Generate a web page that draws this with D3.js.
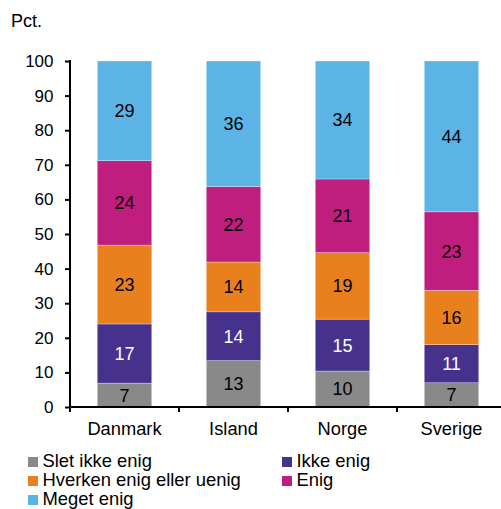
<!DOCTYPE html>
<html><head><meta charset="utf-8">
<script src="https://cdn.jsdelivr.net/npm/d3@7"></script>
<style>body{margin:0;background:#fff}svg{font-family:"Liberation Sans",Arial,sans-serif}</style>
</head><body>
<script>
const categories = ["Danmark", "Island", "Norge", "Sverige"];
const seriesNames = ["Slet ikke enig", "Ikke enig", "Hverken enig eller uenig", "Enig", "Meget enig"];
const sletIkkeEnig = [6.9, 13.4, 10.4, 7.0];
const ikkeEnig = [17.1, 14.1, 15.0, 11.0];
const hverken = [22.8, 14.4, 19.2, 15.7];
const enig = [24.4, 21.8, 21.3, 22.7];
const megetEnig = [28.8, 36.3, 34.1, 43.6];
const yTicks = [0, 10, 20, 30, 40, 50, 60, 70, 80, 90, 100];
const colors = ["#898989", "#46328c", "#e8801e", "#c01e7f", "#5bb4e5"];
const labelColors = ["#000", "#fff", "#000", "#000", "#000"];

const series = [sletIkkeEnig, ikkeEnig, hverken, enig, megetEnig];
const rows = categories.map((c, i) => {
  const r = {cat: c};
  seriesNames.forEach((s, j) => r[s] = series[j][i]);
  return r;
});
const stacked = d3.stack().keys(seriesNames)(rows);

const W = 501, H = 509;
const svg = d3.select("body").append("svg").attr("width", W).attr("height", H);

const x = d3.scaleBand().domain(categories).range([70, 506]).paddingInner(0.5).paddingOuter(0.25);
const y = d3.scaleLinear().domain([0, 100]).range([407, 61]);

svg.append("text").attr("x", 11).attr("y", 26.5).attr("font-size", 18).attr("fill", "#000").text("Pct.");

const g = svg.append("g");
stacked.forEach((layer, j) => {
  g.selectAll(null).data(layer).enter().append("rect")
    .attr("x", d => x(d.data.cat))
    .attr("width", x.bandwidth())
    .attr("y", d => y(Math.min(d[1], 100)))
    .attr("height", d => y(d[0]) - y(Math.min(d[1], 100)))
    .attr("fill", colors[j])
    .attr("stroke", "#fff").attr("stroke-width", 0.5).attr("stroke-opacity", 0.6);
  g.selectAll(null).data(layer).enter().append("text")
    .attr("x", d => x(d.data.cat) + x.bandwidth() / 2)
    .attr("y", d => (y(d[0]) + y(Math.min(d[1], 100))) / 2)
    .attr("dy", "0.36em")
    .attr("text-anchor", "middle")
    .attr("font-size", 18)
    .attr("fill", labelColors[j])
    .text(d => Math.round(d[1] - d[0]));
});

// y axis
const yAxis = d3.axisLeft(y).tickValues(yTicks).tickSize(5).tickSizeOuter(0).tickPadding(11.5);
const ya = svg.append("g").attr("transform", "translate(70,0)").call(yAxis);
ya.select(".domain").attr("stroke", "#000").attr("stroke-width", 2).attr("d", "M0,60V408");
ya.selectAll(".tick line").attr("stroke", "#000").attr("stroke-width", 2);
ya.selectAll(".tick text").attr("font-size", 17).attr("fill", "#000").attr("font-family", "Liberation Sans, Arial, sans-serif");

// x axis
const xa = svg.append("g").attr("transform", "translate(0,407)");
xa.append("line").attr("x1", 69).attr("x2", 506).attr("y1", 0).attr("y2", 0).attr("stroke", "#000").attr("stroke-width", 2);
categories.forEach((c) => {
  const bx = x(c) - (x.step() - x.bandwidth()) / 2;
  xa.append("line").attr("x1", bx).attr("x2", bx).attr("y1", 0).attr("y2", 5).attr("stroke", "#000").attr("stroke-width", 2);
});
xa.selectAll(null).data(categories).enter().append("text")
  .attr("x", d => x(d) + x.bandwidth() / 2).attr("y", 27.5)
  .attr("text-anchor", "middle").attr("font-size", 18.3).attr("fill", "#000").text(d => d);

// legend
const legPos = [[28, 467], [282, 467], [28, 486], [282, 486], [28, 505]];
seriesNames.forEach((s, j) => {
  const [lx, ly] = legPos[j];
  svg.append("rect").attr("x", lx).attr("y", ly - 10).attr("width", 10).attr("height", 10).attr("fill", colors[j]);
  svg.append("text").attr("x", lx + 14.5).attr("y", ly).attr("font-size", 18.4).attr("fill", "#000").text(s);
});
</script>
</body></html>
